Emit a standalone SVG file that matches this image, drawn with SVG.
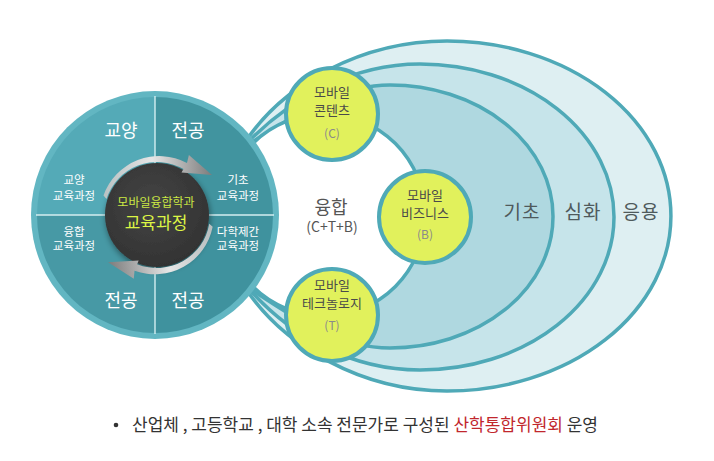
<svg xmlns="http://www.w3.org/2000/svg" width="714" height="461" viewBox="0 0 714 461">
<style>
text{font-family:"Noto Sans CJK KR","Noto Sans",sans-serif;text-anchor:middle}
.layer{stroke:#4fa9b7;stroke-width:3.5}
.q{font-size:18px;fill:#ffffff}
.s{font-size:11.5px;fill:#ffffff}
.g{fill:#e1f15c;stroke:#4fa9b7;stroke-width:4}
.gt{font-size:13px;fill:#4a4a4a}
.gl{font-size:12px;fill:#8a8a8a}
.lv{font-size:19px;fill:#4f5a5c;letter-spacing:1px}
.div{stroke:#d4eef1;stroke-width:1.4}
.arrow{fill:url(#arrowGrad)}
</style>
<defs>
<linearGradient id="arrowGrad" x1="0" y1="0" x2="1" y2="0">
<stop offset="0" stop-color="#c4c4c4" stop-opacity="0.9"/>
<stop offset="0.45" stop-color="#e6e6e6"/>
<stop offset="1" stop-color="#7c7c7c"/>
</linearGradient>
<radialGradient id="centerGrad" cx="0.45" cy="0.4" r="0.6">
<stop offset="0" stop-color="#444444"/>
<stop offset="1" stop-color="#333333"/>
</radialGradient>
<filter id="shadow" x="-30%" y="-30%" width="160%" height="160%">
<feGaussianBlur in="SourceAlpha" stdDeviation="3"/>
<feOffset dx="1" dy="3"/>
<feComponentTransfer><feFuncA type="linear" slope="0.45"/></feComponentTransfer>
<feMerge><feMergeNode/><feMergeNode in="SourceGraphic"/></feMerge>
</filter>
</defs>

<g id="layer-applied">
<path class="layer" fill="#deeff2" d="M248,138 C285,85 360,41 447,41 A224,175 0 0 1 447,391 C360,391 285,345 248,292 Z"/>
</g>
<g id="layer-advanced">
<path class="layer" fill="#c6e4ea" d="M250,140 C290,100 350,64 420,64 A194,153 0 0 1 420,370 C350,370 290,335 250,290 Z"/>
</g>
<g id="layer-basic">
<path class="layer" fill="#afd8e0" d="M252,142 C300,112 340,85 390,85 A163,131.5 0 0 1 390,348 C340,348 300,322 252,290 Z"/>
</g>
<g id="convergence">
<circle cx="324" cy="215" r="101" fill="#ffffff" stroke="#4fa9b7" stroke-width="3.5"/>
<text x="331" y="213.5" style="font-size:18px;fill:#555555">융합</text>
<text x="332" y="232" style="font-size:14px;fill:#555555">(C+T+B)</text>
</g>
<g id="level-labels">
<text class="lv" x="522" y="219">기초</text>
<text class="lv" x="583" y="219">심화</text>
<text class="lv" x="641" y="219">응용</text>
</g>

<g id="curriculum">
<circle cx="155" cy="215" r="124" fill="#62b6c2"/>
<path fill="#54aab7" d="M155,215 L37,215 A118,118 0 0 1 155,97 Z"/>
<path fill="#41949f" d="M155,215 L155,97 A118,118 0 0 1 273,215 Z"/>
<path fill="#3f929e" d="M155,215 L273,215 A118,118 0 0 1 155,333 Z"/>
<path fill="#4799a5" d="M155,215 L155,333 A118,118 0 0 1 37,215 Z"/>
<line class="div" x1="36" y1="215" x2="274" y2="215"/>
<line class="div" x1="155" y1="96" x2="155" y2="334"/>
<text class="q" x="121" y="136.5">교양</text>
<text class="q" x="188" y="136.5">전공</text>
<text class="q" x="121" y="306.5">전공</text>
<text class="q" x="188" y="306.5">전공</text>
<text class="s" x="74" y="184">교양</text>
<text class="s" x="74" y="199.5">교육과정</text>
<text class="s" x="238" y="184">기초</text>
<text class="s" x="238" y="199.5">교육과정</text>
<text class="s" x="74" y="235.5">융합</text>
<text class="s" x="74" y="250">교육과정</text>
<text class="s" x="238" y="235.5">다학제간</text>
<text class="s" x="238" y="250">교육과정</text>
<circle cx="157" cy="215" r="52" fill="url(#centerGrad)" filter="url(#shadow)"/>
<text x="156" y="206.5" style="font-size:12px;fill:#cbe843">모바일융합학과</text>
<text x="156" y="228.5" style="font-size:17px;fill:#dcf545">교육과정</text>
</g>

<g id="connectors">
<path class="arrow" d="M103.5,195.5 A59,59 0 0 1 187,163 L188.9,155 L212,175 L181.5,172.6 L183.5,169.1 A53,53 0 0 0 106.5,199 Z"/>
<path class="arrow" transform="rotate(172 157 215)" d="M103.5,195.5 A59,59 0 0 1 187,163 L188.9,155 L212,175 L181.5,172.6 L183.5,169.1 A53,53 0 0 0 106.5,199 Z"/>
</g>

<g id="contents">
<circle class="g" cx="332" cy="114" r="46"/>
<text class="gt" x="332" y="97">모바일</text>
<text class="gt" x="332" y="115">콘텐츠</text>
<text class="gl" x="332" y="137.5">(C)</text>
</g>
<g id="business">
<circle class="g" cx="425" cy="217" r="46"/>
<text class="gt" x="425" y="200">모바일</text>
<text class="gt" x="425" y="218">비즈니스</text>
<text class="gl" x="425" y="238.5">(B)</text>
</g>
<g id="technology">
<circle class="g" cx="332" cy="315" r="46"/>
<text class="gt" x="332" y="290">모바일</text>
<text class="gt" x="332" y="308">테크놀로지</text>
<text class="gl" x="332" y="329.5">(T)</text>
</g>

<g id="caption">
<circle cx="116" cy="425" r="2.3" fill="#333333"/>
<text x="132" y="431" style="font-size:17px;fill:#333333;text-anchor:start">산업체 , 고등학교 , 대학 소속 전문가로 구성된 <tspan fill="#c1272d">산학통합위원회</tspan> 운영</text>
</g>
</svg>
